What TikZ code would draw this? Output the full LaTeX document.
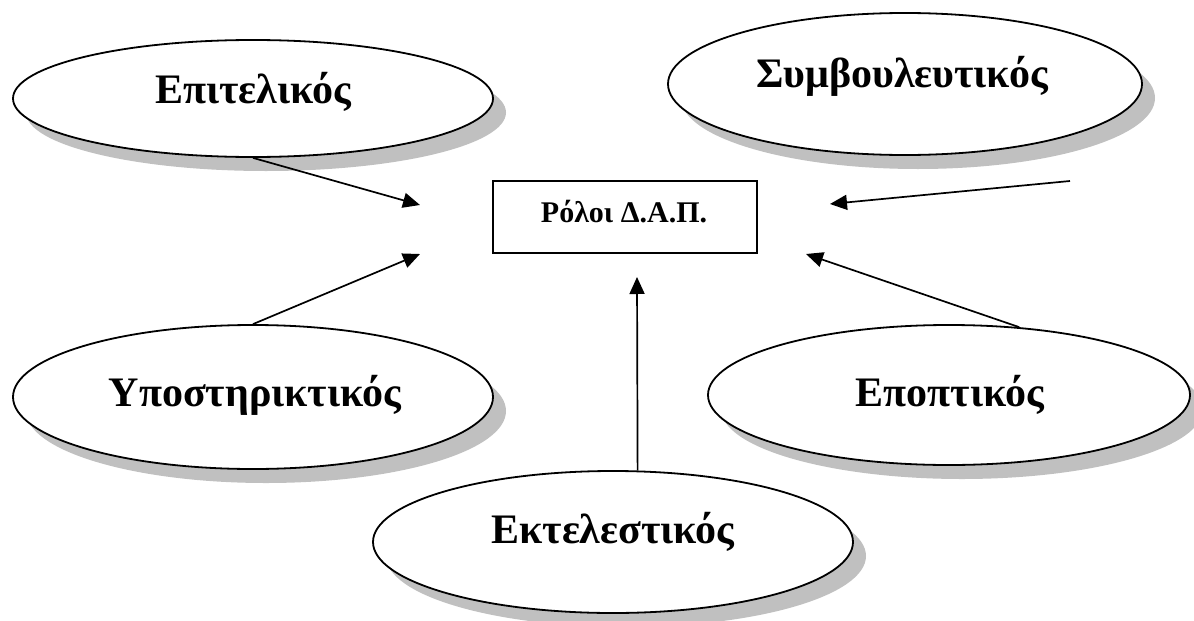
\documentclass[tikz,border=0pt]{standalone}
\usepackage{fontspec}
\setmainfont{Liberation Serif}
\usetikzlibrary{arrows.meta,shapes.geometric,shadows}
\definecolor{shadowgrey}{RGB}{192,192,192}
\begin{document}
\begin{tikzpicture}[x=1pt,y=-1pt,
  role/.style={ellipse,draw=black,line width=1.8pt,fill=white,inner sep=0pt,
    drop shadow={shadow xshift=13pt,shadow yshift=-14pt,fill=shadowgrey,opacity=1,draw=none}},
  rolelabel/.style={anchor=base,inner sep=0pt,font=\bfseries\fontsize{42}{48}\selectfont},
  centrebox/.style={draw=black,line width=1.6pt,fill=white,inner sep=0pt},
  centrelabel/.style={anchor=base,inner sep=0pt,font=\bfseries\fontsize{30}{36}\selectfont},
  conn/.style={line width=1.7pt,-{Triangle[length=17pt,width=15pt]}}
]
\useasboundingbox (0,0) rectangle (1194,621);

% role ellipses
\node[role,minimum width=480pt,minimum height=117pt] (e1) at (253,98.5) {};
\node[role,minimum width=474pt,minimum height=142pt] (e2) at (905,84) {};
\node[role,minimum width=480pt,minimum height=144pt] (e4) at (253,397) {};
\node[role,minimum width=482pt,minimum height=140pt] (e5) at (949,395) {};
\node[role,minimum width=480pt,minimum height=142pt] (e6) at (613,542) {};

\node[rolelabel] (l1) at (253,103) {Επιτελικός};
\node[rolelabel] (l2) at (902,87) {Συμβουλευτικός};
\node[rolelabel] (l4) at (255,406) {Υποστηρικτικός};
\node[rolelabel] (l5) at (950,406) {Εποπτικός};
\node[rolelabel] (l6) at (613,543) {Εκτελεστικός};

% central box
\node[centrebox,minimum width=264pt,minimum height=72pt] (box) at (625,217) {};
\node[centrelabel] (bl) at (624,222) {Ρόλοι Δ.Α.Π.};

% arrow end points around the box
\coordinate (t1) at (420,205);
\coordinate (t4) at (420,254);
\coordinate (t2) at (830,204);
\coordinate (t5) at (806,254);
\coordinate (t3) at (637,277);
\coordinate (s2) at (1070,181);

\draw[conn] (e1.south) -- (t1);
\draw[conn] (e4.north) -- (t4);
\draw[conn] (s2) -- (t2);
\draw[conn] (e5.44) -- (t5);
\draw[conn] (e6.71.3) -- (t3);
\end{tikzpicture}
\end{document}
